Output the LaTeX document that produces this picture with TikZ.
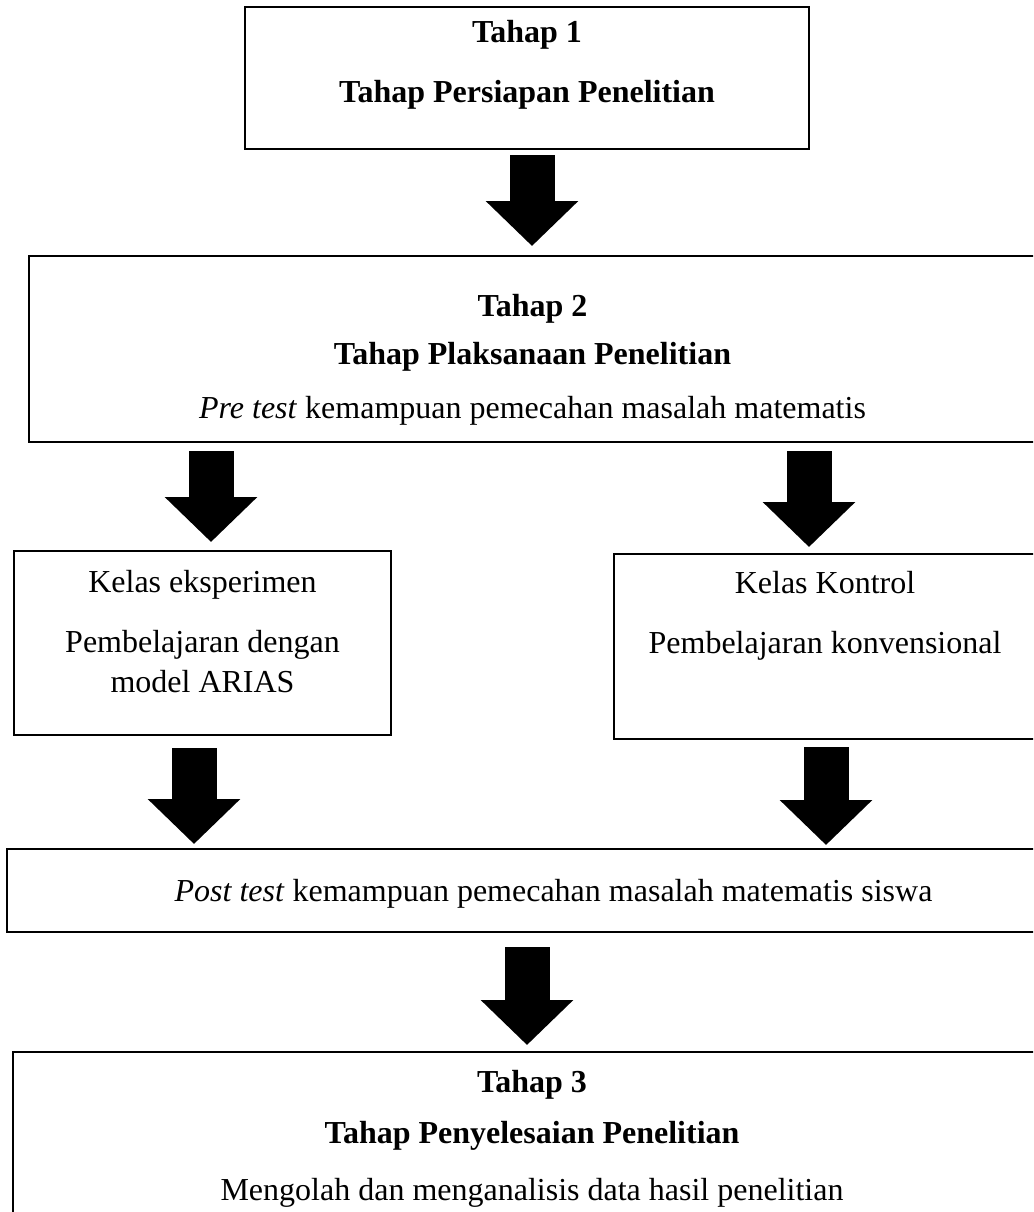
\documentclass[tikz,border=0pt]{standalone}
\usepackage{fontspec}
\setmainfont{Liberation Serif}
\usetikzlibrary{arrows.meta}
\tikzset{
x=1pt, y=-1pt, % coordinates counted like pixels, y goes down
box/.style={draw, line width=2pt, inner sep=0pt}, % the frames
txt/.style={inner sep=0pt, anchor=base, font=\fontsize{32}{38}\selectfont}, % one line of text
head/.style={txt, font=\fontsize{32}{38}\selectfont\bfseries}, % bold titles
bigarrow/.style={line width=45pt, -{Triangle[width=90pt,length=45pt]}}, % the fat black arrows
}
\begin{document}
\begin{tikzpicture}
		\clip (0,0) rectangle (1033,1212);
		% frames
		\node[box, minimum width=564pt, minimum height=142pt] (1) at (527,78) {};
		\node[box, minimum width=1007pt, minimum height=186pt] (2) at (532.5,349) {};
		\node[box, minimum width=377pt, minimum height=184pt] (3) at (202.5,643) {};
		\node[box, minimum width=422pt, minimum height=185pt] (4) at (825,646.5) {};
		\node[box, minimum width=1093pt, minimum height=83pt] (5) at (553.5,890.5) {};
		\node[box, minimum width=1038pt, minimum height=210pt] (6) at (532,1157) {};

		% texts
		\node[head] (1a) at (527,43) {Tahap 1};
		\node[head] (1b) at (527,103) {Tahap Persiapan Penelitian};
		\node[head] (2a) at (532.5,316) {Tahap 2};
		\node[head] (2b) at (532.5,364) {Tahap Plaksanaan Penelitian};
		\node[txt] (2c) at (532.5,418) {\textit{Pre test} kemampuan pemecahan masalah matematis};
		\node[txt] (3a) at (202.5,592) {Kelas eksperimen};
		\node[txt] (3b) at (202.5,652) {Pembelajaran dengan};
		\node[txt] (3c) at (202.5,692) {model ARIAS};
		\node[txt] (4a) at (825,593) {Kelas Kontrol};
		\node[txt] (4b) at (825,653) {Pembelajaran konvensional};
		\node[txt] (5a) at (553.5,901) {\textit{Post test} kemampuan pemecahan masalah matematis siswa};
		\node[head] (6a) at (532,1092) {Tahap 3};
		\node[head] (6b) at (532,1143) {Tahap Penyelesaian Penelitian};
		\node[txt] (6c) at (532,1200) {Mengolah dan menganalisis data hasil penelitian};

		% arrows
		\draw[bigarrow, shorten <=5pt, shorten >=9pt] ([xshift=5pt]1.south) -- ([xshift=5pt]1.south |- 2.north);
		\draw[bigarrow, shorten <=8pt, shorten >=8pt] ([xshift=8.5pt]3.north |- 2.south) -- ([xshift=8.5pt]3.north);
		\draw[bigarrow, shorten <=8pt, shorten >=6pt] ([xshift=-16pt]4.north |- 2.south) -- ([xshift=-16pt]4.north);
		\draw[bigarrow, shorten <=12pt, shorten >=4pt] ([xshift=-8.5pt]3.south) -- ([xshift=-8.5pt]3.south |- 5.north);
		\draw[bigarrow, shorten <=7pt, shorten >=3pt] ([xshift=1pt]4.south) -- ([xshift=1pt]4.south |- 5.north);
		\draw[bigarrow, shorten <=14pt, shorten >=6pt] ([xshift=-5pt]6.north |- 5.south) -- ([xshift=-5pt]6.north);
	\end{tikzpicture}
\end{document}
